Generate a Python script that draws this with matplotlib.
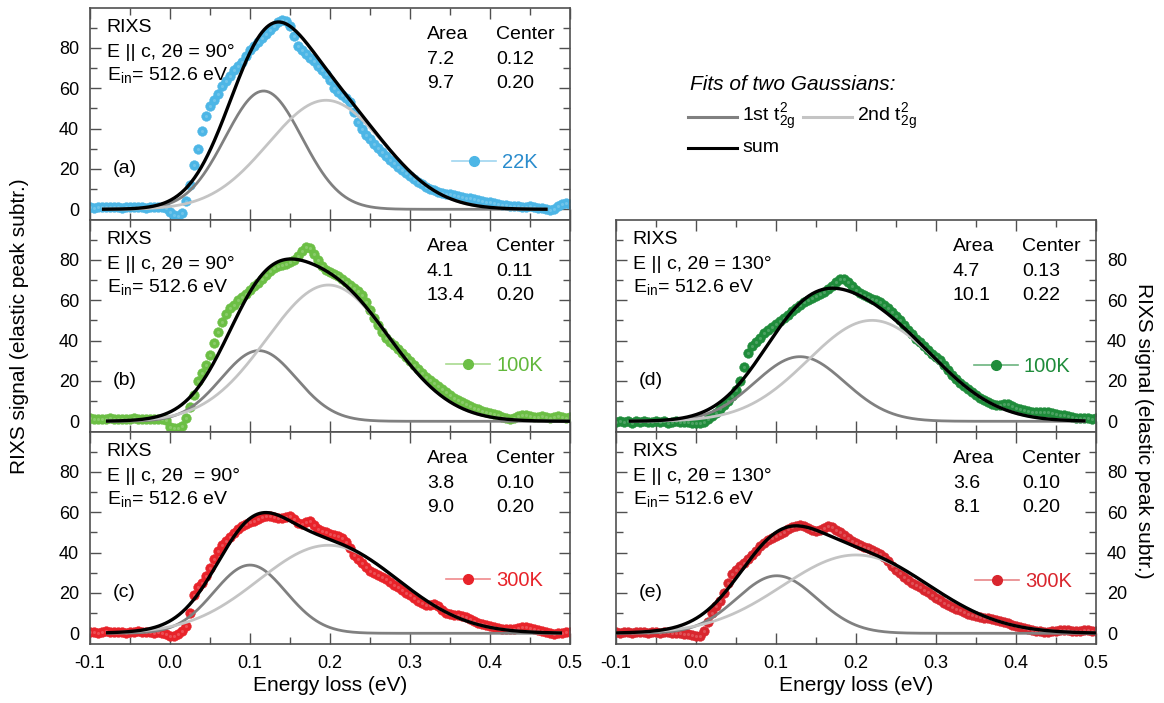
import numpy as np
import matplotlib
matplotlib.use("Agg")
import matplotlib.pyplot as plt
from matplotlib.lines import Line2D
from matplotlib.ticker import MultipleLocator, FormatStrFormatter

plt.rcParams['font.family'] = ['Liberation Sans', 'DejaVu Sans']
plt.rcParams['mathtext.fontset'] = 'custom'
plt.rcParams['mathtext.rm'] = 'Liberation Sans'
plt.rcParams['mathtext.it'] = 'Liberation Sans:italic'

# energy loss grid of the measured points (eV), step 0.005
energy = np.round(np.arange(121) * 0.005 - 0.1, 3)

# RIXS signal, one list per panel
sig_a = [1.0, 0.8, 1.1, 0.9, 1.0, 1.2, 0.9, 1.0, 0.8, 1.1, 1.0, 0.9, 1.2, 1.0, 0.8, 1.0, 1.1, 0.9, 1.0, 0.5,
         -1.5, -3.0, -3.5, -2.0, 4, 12, 22, 30, 39, 46, 51, 54, 57, 61, 63.5, 66, 69, 71, 73, 76,
         79, 81, 83, 85, 87, 89, 91, 93, 94, 93.5, 91, 86, 81, 79, 77, 75, 73.5, 71, 69, 67,
         64, 60, 58, 56.5, 55, 53, 48, 43, 40, 37, 35, 32.5, 30.5, 28.5, 26.5, 24.5, 23, 21, 19.5, 18,
         16.5, 15, 13.5, 12.5, 11, 10, 9.5, 8.5, 8, 7.5, 7.5, 7, 6.5, 6, 5.5, 5.5, 5, 4.5, 4, 3.5,
         3.5, 3, 2.5, 2, 2, 1.5, 1.5, 1.5, 1, 1, 1.5, 1, 0.5, 0.5, 0, -0.5, 0, 1.5, 2.5, 3, 2.5]
sig_b = [1.5, 1.2, 1.0, 1.3, 1.1, 1.4, 1.0, 1.2, 1.3, 1.0, 1.1, 1.4, 1.2, 1.0, 1.3, 1.1, 1.2, 1.0, 1.1, 0.5,
         -3.0, -3.5, -3.5, -2.5, 1.5, 7, 13, 20, 24, 28, 33, 39, 44, 49, 53, 56, 57.5, 60, 61.5, 63,
         65, 67, 68.5, 70.5, 72.5, 74.5, 76, 77, 77.5, 78, 79, 80, 82, 84.5, 86.5, 86, 83, 80, 77, 75,
         74, 73, 72, 70.5, 69, 67.5, 66, 64.5, 62.5, 59, 55, 51, 47.5, 44, 41.5, 39.5, 38, 36, 34, 32,
         30, 28, 26, 24, 22, 20.5, 19, 17.5, 16, 14.5, 13, 11.5, 10.5, 9.5, 8.5, 7.5, 6.5, 6, 5, 4.5,
         4, 3.5, 3, 2, 1.5, 1, 1.5, 2.5, 3, 3, 2.5, 2, 2, 2.5, 2, 1.5, 2, 2.5, 2, 1.5, 2]
sig_c = [0.5, 0.8, 0.3, 0.6, 0.9, 0.4, 0.7, 0.5, 0.8, 0.3, 0.6, 0.5, 0.9, 0.4, 0.7, 0.5, 0.3, 0.6, 0.2, -0.5,
         -1.5, -1.5, -0.5, 1, 3.5, 10, 19, 23, 25, 28.5, 32.5, 37, 41, 43.5, 45.5, 47.5, 49.5, 51.5, 53, 54,
         55, 55.5, 56.5, 57.5, 58, 58, 57.5, 57, 57, 57.5, 58, 56.5, 54.5, 54, 55, 55.5, 53.5, 51.5, 50.5, 50,
         49, 48.5, 48, 47, 45, 42, 39, 37, 35, 33, 31, 30, 29, 28, 27, 25.5, 24, 23, 21.5, 20,
         19, 17.5, 16, 15, 14, 14, 14.5, 13.5, 11.5, 10, 9.5, 9, 9, 8.5, 8, 7, 6, 5, 4.5, 4,
         3.5, 3, 2.5, 2, 2, 2, 2, 2.5, 3, 3, 2.5, 2, 1.5, 1, 0.5, 0, -0.5, 0, 0, 0.5, 0.5]
sig_d = [-0.5, 0.2, -0.3, 0.1, -0.6, 0.0, -0.4, 0.2, -0.2, -0.5, 0.1, -0.3, 0.0, -0.6, -0.2, 0.1, -0.4, -0.1, -0.5, -0.8,
         -1.0, -1.0, -0.5, 1, 2.5, 4, 6, 8, 10, 12.5, 15.5, 20, 27, 34, 37.5, 39.5, 41.5, 43.5, 45, 46.5,
         48, 49.5, 51, 52.5, 54.5, 56, 57.5, 59, 60, 61, 62, 63, 64, 65.5, 67, 69, 70.5, 70.5, 69, 67,
         65, 63.5, 62.5, 61.5, 60.5, 60, 59, 57.5, 56, 54, 52, 50, 47.5, 45, 43, 41, 39.5, 37.5, 35.5, 33.5,
         32, 30.5, 28, 25.5, 23, 21, 19, 17.5, 16, 14.5, 13, 11.5, 10.5, 9.5, 8.5, 8, 8, 8.5, 8.5, 7.5,
         6.5, 6, 5.5, 5, 4.5, 4.5, 4.5, 4.5, 4.5, 4, 3.5, 3, 3, 2.5, 2, 1.5, 1.5, 1.5, 1.5, 1, 1.5]
sig_e = [0.5, 0.2, 0.4, 0.6, 0.3, 0.5, 0.7, 0.4, 0.2, 0.5, 0.6, 0.3, 0.4, 0.5, 0.2, 0.3, 0.1, -0.2, -0.5, -1.0,
         -1.5, -1.5, 1, 5.5, 10, 13.5, 16, 20, 25, 29.5, 31.5, 33.5, 35, 37, 39, 41, 43, 44.5, 46, 47,
         48, 49, 50, 51.5, 52.5, 53, 53.5, 53, 52, 51, 50.5, 51, 52, 53, 52.5, 51, 50, 48.5, 47, 45.5,
         44.5, 43.5, 42.5, 42, 41.5, 40.5, 39.5, 38, 36, 33.5, 31.5, 30, 28, 26.5, 25, 24, 23, 21.5, 20.5, 19,
         17.5, 16.5, 15, 14, 13, 12, 11.5, 10.5, 9.5, 9, 8.5, 8, 7.5, 7.5, 7, 6.5, 6, 5.5, 5, 4,
         3.5, 3, 2.5, 2, 1.5, 1, 1, 0.5, 0.5, 1, 1, 1.5, 1.5, 1.5, 1, 1, 1, 1.5, 1.5, 1, 1]

# two-Gaussian fits: (amplitude, center eV, sigma eV) for 1st and 2nd t2g
fit_1st = {'a': (58.6, 0.117, 0.048), 'b': (35, 0.111, 0.047), 'c': (33.8, 0.100, 0.045),
           'd': (32, 0.130, 0.056), 'e': (28.5, 0.101, 0.050)}
fit_2nd = {'a': (54, 0.195, 0.072), 'b': (67.5, 0.198, 0.077), 'c': (43.6, 0.198, 0.087),
           'd': (50, 0.220, 0.080), 'e': (38.8, 0.200, 0.092)}
fit_range = {'a': (-0.083, 0.47), 'b': (-0.078, 0.50), 'c': (-0.078, 0.488),
             'd': (-0.082, 0.485), 'e': (-0.10, 0.50)}

# values printed in each panel
areas = {'a': ('7.2', '9.7'), 'b': ('4.1', '13.4'), 'c': ('3.8', '9.0'),
         'd': ('4.7', '10.1'), 'e': ('3.6', '8.1')}
centers = {'a': ('0.12', '0.20'), 'b': ('0.11', '0.20'), 'c': ('0.10', '0.20'),
           'd': ('0.13', '0.22'), 'e': ('0.10', '0.20')}
angle_txt = {'a': '2\u03b8 = 90\u00b0', 'b': '2\u03b8 = 90\u00b0', 'c': '2\u03b8  = 90\u00b0',
             'd': '2\u03b8 = 130\u00b0', 'e': '2\u03b8 = 130\u00b0'}
temps = {'a': '22K', 'b': '100K', 'c': '300K', 'd': '100K', 'e': '300K'}
signals = {'a': sig_a, 'b': sig_b, 'c': sig_c, 'd': sig_d, 'e': sig_e}

marker_col = {'a': '#4db6e6', 'b': '#6cbf45', 'c': '#e8232a', 'd': '#1f8c3b', 'e': '#d9262e'}
text_col = {'a': '#2a8ccd', 'b': '#62b83c', 'c': '#e8232a', 'd': '#1f8c3b', 'e': '#d9262e'}
leg_line = {'a': '#9fd6f0', 'b': '#a9da90', 'c': '#f08a8c', 'd': '#6cb47f', 'e': '#e88588'}
leg_x = {'a': 0.754, 'b': 0.742, 'c': 0.742, 'd': 0.745, 'e': 0.747}
leg_y = {'a': 0.27, 'b': 0.315, 'c': 0.30, 'd': 0.31, 'e': 0.295}


def gauss(x, p):
    amp, cen, sig = p
    return amp * np.exp(-(x - cen) ** 2 / (2 * sig ** 2))


W, H = 1164, 703
fig = plt.figure(figsize=(W / 100, H / 100), dpi=100)


def rect(x0, x1, ytop, ybot):
    return [x0 / W, 1 - ybot / H, (x1 - x0) / W, (ybot - ytop) / H]


axes = {
    'a': fig.add_axes(rect(90, 570, 8, 220)),
    'b': fig.add_axes(rect(90, 570, 220, 432)),
    'c': fig.add_axes(rect(90, 570, 432, 644)),
    'd': fig.add_axes(rect(616, 1096, 220, 432)),
    'e': fig.add_axes(rect(616, 1096, 432, 644)),
}

spine_col = '#505050'
fs = 14      # annotation text
fs_tick = 13
fs_lab = 15

for key, ax in axes.items():
    right = key in ('d', 'e')
    y = np.array(signals[key])
    ax.plot(energy, y, 'o', ms=7, color=marker_col[key], mec=marker_col[key], mew=0.3, zorder=2)
    ax.plot(energy, y, 'o', ms=2.2, color='white', alpha=0.2, mew=0, zorder=2.1)

    xf = np.linspace(*fit_range[key], 400)
    g1 = gauss(xf, fit_1st[key])
    g2 = gauss(xf, fit_2nd[key])
    ax.plot(xf, g1, color='#808080', lw=2.0, zorder=3)
    ax.plot(xf, g2, color='#c4c4c4', lw=2.0, zorder=3)
    ax.plot(xf, g1 + g2, color='black', lw=2.4, zorder=4)

    ax.set_xlim(-0.1, 0.5)
    ax.xaxis.set_major_locator(MultipleLocator(0.1))
    ax.xaxis.set_minor_locator(MultipleLocator(0.05))
    ax.xaxis.set_major_formatter(FormatStrFormatter('%.1f'))
    ax.set_yticks([0, 20, 40, 60, 80])
    ax.yaxis.set_minor_locator(MultipleLocator(10))
    ax.set_ylim(-5.3, 99.7)
    ax.tick_params(which='both', direction='in', top=True, bottom=True, left=True, right=True,
                   color=spine_col, labelsize=fs_tick, width=1.0)
    ax.tick_params(which='major', length=8)
    ax.tick_params(which='minor', length=5)
    ax.tick_params(axis='x', pad=8)
    ax.tick_params(axis='y', pad=8, labelleft=not right, labelright=right)
    for s in ax.spines.values():
        s.set_color(spine_col)
        s.set_linewidth(1.2)
    if key in ('c', 'e'):
        ax.set_xlabel('Energy loss (eV)', fontsize=fs_lab, labelpad=3)
    else:
        ax.tick_params(axis='x', labelbottom=False)

    x0 = 0.035
    ax.text(x0, 0.906, 'RIXS', transform=ax.transAxes, fontsize=fs, va='center')
    ax.text(x0, 0.788, 'E || c, ' + angle_txt[key], transform=ax.transAxes,
            fontsize=fs, va='center')
    ax.text(x0, 0.684, r'E$_{\mathregular{in}}$= 512.6 eV', transform=ax.transAxes,
            fontsize=fs, va='center')
    ax.text(0.702, 0.873, 'Area', transform=ax.transAxes, fontsize=fs, va='center')
    ax.text(0.846, 0.873, 'Center', transform=ax.transAxes, fontsize=fs, va='center')
    for row, yy in enumerate((0.757, 0.643)):
        ax.text(0.702, yy, areas[key][row], transform=ax.transAxes, fontsize=fs, va='center')
        ax.text(0.846, yy, centers[key][row], transform=ax.transAxes, fontsize=fs, va='center')
    ax.text(0.048, 0.245, '(' + key + ')', transform=ax.transAxes, fontsize=fs, va='center')

    h = Line2D([], [], color=leg_line[key], lw=1.2, marker='o', ms=7,
               mfc=marker_col[key], mec=marker_col[key])
    leg = ax.legend([h], [temps[key]], loc='center left', bbox_to_anchor=(leg_x[key], leg_y[key]),
                    frameon=False, fontsize=14.5, handlelength=2.2, handletextpad=0.3,
                    borderpad=0, borderaxespad=0)
    for t in leg.get_texts():
        t.set_color(text_col[key])

fig.text(20 / W, 1 - 326 / H, 'RIXS signal (elastic peak subtr.)', rotation=90,
         ha='center', va='center', fontsize=fs_lab)
fig.text(1143 / W, 1 - 431 / H, 'RIXS signal (elastic peak subtr.)', rotation=270,
         ha='center', va='center', fontsize=fs_lab)

# fit legend in the upper right
fig.text(690 / W, 1 - 85 / H, 'Fits of two Gaussians:', style='italic', fontsize=15, va='center')
for (xa, xb, yy, col, lab) in [(688, 737, 117, '#808080', r'1st t$^{\mathregular{2}}_{\mathregular{2g}}$'),
                               (803, 852, 117, '#c4c4c4', r'2nd t$^{\mathregular{2}}_{\mathregular{2g}}$'),
                               (688, 737, 148, 'black', 'sum')]:
    fig.add_artist(Line2D([xa / W, xb / W], [1 - yy / H, 1 - yy / H], color=col, lw=2.2,
                          transform=fig.transFigure))
    fig.text((xb + 5) / W, 1 - yy / H, lab, fontsize=fs, va='center')

fig.savefig('out.png', dpi=100)
